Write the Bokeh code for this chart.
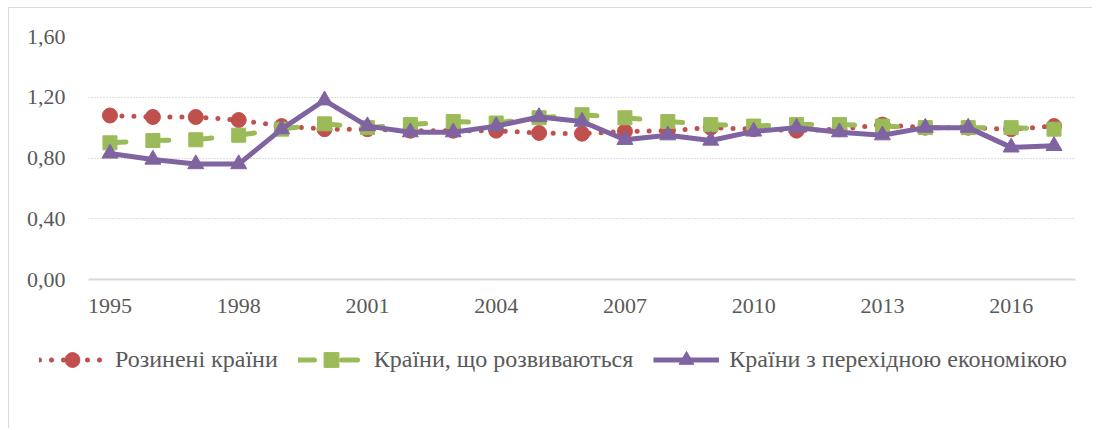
from bokeh.plotting import figure
from bokeh.layouts import column, row
from bokeh.models import Range1d, FixedTicker, CustomJSTickFormatter, Legend, LegendItem, ColumnDataSource
from bokeh.embed import file_html
from bokeh.resources import INLINE

years = list(range(1995, 2018))
developed = [1.08, 1.07, 1.07, 1.05, 1.01, 0.99, 0.99, 0.98, 0.98, 0.98, 0.965, 0.96, 0.975,
             0.98, 1.00, 0.99, 0.98, 0.99, 1.02, 1.00, 1.00, 0.99, 1.01]
developing = [0.90, 0.915, 0.92, 0.95, 0.99, 1.025, 1.00, 1.02, 1.04, 1.03, 1.065, 1.085, 1.065,
              1.04, 1.02, 1.01, 1.02, 1.02, 1.01, 1.00, 1.00, 1.00, 0.99]
transition = [0.83, 0.79, 0.76, 0.76, 0.99, 1.18, 1.01, 0.97, 0.97, 1.01, 1.07, 1.04, 0.92,
              0.95, 0.915, 0.975, 1.00, 0.97, 0.95, 1.00, 1.00, 0.87, 0.88]
tick_years = [1995, 1998, 2001, 2004, 2007, 2010, 2013, 2016]
y_ticks = [0.0, 0.4, 0.8, 1.2, 1.6]
labels = ["Розинені країни", "Країни, що розвиваються", "Країни з перехідною економікою"]

RED = "#C0504D"
GREEN = "#9BBB59"
PURPLE = "#8064A2"
FONT = "Liberation Serif"
TXT = "#595959"

line_styles = [
    dict(line_color=RED, line_width=5, line_dash="0 12", line_cap="round"),
    dict(line_color=GREEN, line_width=5, line_dash="16 27", line_cap="round"),
    dict(line_color=PURPLE, line_width=5, line_join="round"),
]
marker_styles = [
    dict(marker="circle", size=15, fill_color=RED, line_color=RED),
    dict(marker="square", size=14, fill_color=GREEN, line_color=GREEN),
    dict(marker="triangle", size=16, fill_color=PURPLE, line_color=PURPLE),
]

src = ColumnDataSource(dict(x=years, a=developed, b=developing, c=transition))

p = figure(width=1083, height=320, output_backend="svg", toolbar_location=None,
           x_range=Range1d(1994.5, 2017.5), y_range=Range1d(0, 1.6),
           min_border_left=79, min_border_right=17, min_border_top=28, min_border_bottom=49)
p.outline_line_color = None

for col, ls, ms in zip(["a", "b", "c"], line_styles, marker_styles):
    p.line("x", col, source=src, **ls)
    p.scatter("x", col, source=src, **ms)

p.xaxis.ticker = FixedTicker(ticks=tick_years)
p.xaxis.formatter = CustomJSTickFormatter(code="return tick.toFixed(0);")
p.yaxis.ticker = FixedTicker(ticks=y_ticks)
p.yaxis.formatter = CustomJSTickFormatter(code="return tick.toFixed(2).replace('.', ',');")

for ax in (p.xaxis, p.yaxis):
    ax.major_tick_line_color = None
    ax.minor_tick_line_color = None
    ax.major_tick_out = 0
    ax.major_tick_in = 0
    ax.minor_tick_out = 0
    ax.major_label_text_font = FONT
    ax.major_label_text_font_size = "22px"
    ax.major_label_text_color = TXT
p.xaxis.axis_line_color = "#D9D9D9"
p.xaxis.axis_line_width = 2
p.xaxis.major_label_standoff = 19
p.yaxis.axis_line_color = None
p.yaxis.major_label_standoff = 23

p.xgrid.grid_line_color = None
p.ygrid.grid_line_color = "#BFBFBF"
p.ygrid.grid_line_dash = "1 2"
p.ygrid.grid_line_width = 1

# legend-only figure below the chart: same series, drawn outside its visible ranges
p2 = figure(width=1083, height=100, output_backend="svg", toolbar_location=None,
            x_axis_type=None, y_axis_type=None, x_range=Range1d(0, 1), y_range=Range1d(0, 1),
            min_border_left=0, min_border_right=0, min_border_top=0, min_border_bottom=0)
p2.outline_line_color = None
p2.grid.visible = False
items = []
for lab, col, ls, ms in zip(labels, ["a", "b", "c"], line_styles, marker_styles):
    r1 = p2.line("x", col, source=src, **ls)
    r2 = p2.scatter("x", col, source=src, **ms)
    items.append(LegendItem(label=lab, renderers=[r1, r2]))

legend = Legend(items=items, orientation="horizontal", location=(30, 50),
                glyph_width=66, glyph_height=37, label_standoff=10, spacing=20,
                padding=0, margin=0, border_line_color=None, background_fill_alpha=0,
                label_text_font=FONT, label_text_font_size="24px", label_text_color=TXT)
p2.add_layout(legend, "center")

layout = column(p, row(p2, spacing=0), spacing=0)
layout.styles = {"border-left": "1px solid #D9D9D9", "border-top": "1px solid #D9D9D9",
                 "margin-left": "8px", "margin-top": "7px"}

open("out.html", "w").write(file_html(layout, INLINE))
